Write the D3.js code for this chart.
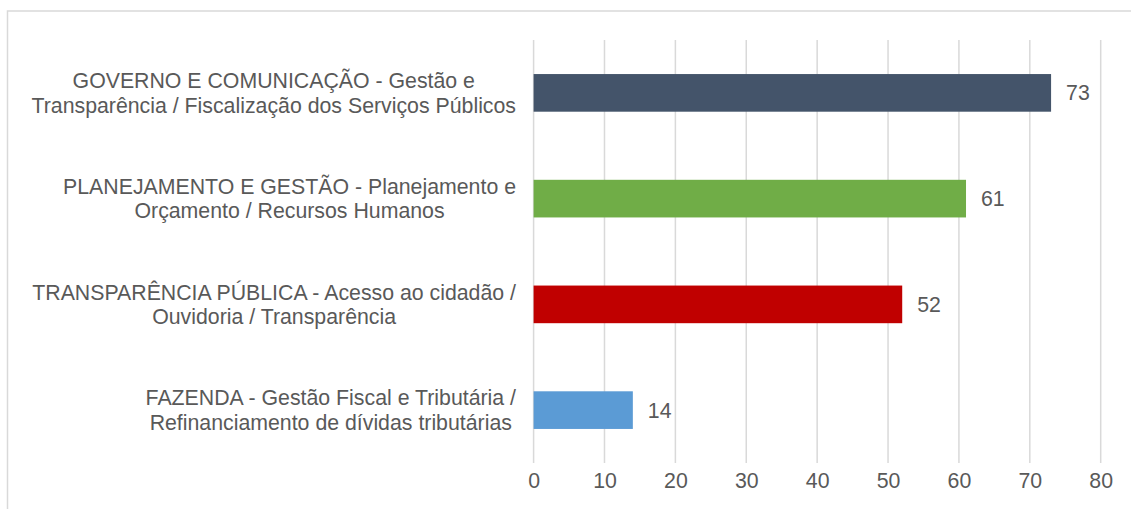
<!DOCTYPE html>
<html><head><meta charset="utf-8">
<script src="https://cdn.jsdelivr.net/npm/d3@7"></script>
<style>
html,body{margin:0;padding:0;background:#fff;}
svg{display:block;}
text{font-family:"Liberation Sans",Arial,sans-serif;fill:#595959;}
</style></head>
<body><svg id="c" width="1131" height="509"></svg>
<script>
const categories = [
  ["GOVERNO E COMUNICAÇÃO - Gestão e", "Transparência / Fiscalização dos Serviços Públicos"],
  ["PLANEJAMENTO E GESTÃO - Planejamento e", "Orçamento / Recursos Humanos"],
  ["TRANSPARÊNCIA PÚBLICA - Acesso ao cidadão /", "Ouvidoria / Transparência"],
  ["FAZENDA - Gestão Fiscal e Tributária /", "Refinanciamento de dívidas tributárias"]
];
const values = [73, 61, 52, 14];
const colors = ["#44546A", "#70AD47", "#C00000", "#5B9BD5"];
const xTicks = [0, 10, 20, 30, 40, 50, 60, 70, 80];

const FS = 21.3;
const svg = d3.select("#c");
// outer chart border
svg.append("rect").attr("x", 7.5).attr("y", 11).attr("width", 1140).attr("height", 520)
  .attr("fill", "none").attr("stroke", "#d9d9d9").attr("stroke-width", 1.5);

const x = d3.scaleLinear().domain([0, 80]).range([533.6, 1100.7]);
const idx = categories.map((d, i) => i);
const y = d3.scaleBand().domain(idx).range([40, 463]).paddingInner(0.644).paddingOuter(0.322);

// gridlines
svg.append("g").selectAll("line").data(xTicks).join("line")
  .attr("x1", d => x(d)).attr("x2", d => x(d))
  .attr("y1", 40).attr("y2", 463)
  .attr("stroke", "#d9d9d9").attr("stroke-width", 1.5);

// x axis labels
const xAxis = d3.axisBottom(x).tickValues(xTicks).tickSize(0).tickPadding(0);
const gx = svg.append("g").attr("transform", "translate(0,473)").call(xAxis);
gx.select(".domain").remove();
gx.selectAll("text").attr("font-size", FS).style("fill", "#595959")
  .attr("font-family", "Liberation Sans, Arial, sans-serif");

// bars
svg.append("g").selectAll("rect").data(values).join("rect")
  .attr("x", x(0)).attr("y", (d, i) => y(i))
  .attr("width", d => x(d) - x(0)).attr("height", y.bandwidth())
  .attr("fill", (d, i) => colors[i]);

// value labels
svg.append("g").selectAll("text").data(values).join("text")
  .attr("x", d => x(d) + 15).attr("y", (d, i) => y(i) + y.bandwidth() / 2)
  .attr("dy", "0.35em").attr("font-size", FS).text(d => d);

// category labels
const lab = svg.append("g").selectAll("g").data(categories).join("g");
lab.each(function(lines, i) {
  const g = d3.select(this);
  const cy = y(i) + y.bandwidth() / 2;
  const ts = g.selectAll("text").data(lines).join("text")
    .attr("font-size", FS).attr("text-anchor", "middle")
    .attr("y", (d, j) => cy + (j - 0.5) * 24.5).attr("dy", "0.35em").text(d => d);
  let maxW = 0;
  ts.each(function() { maxW = Math.max(maxW, this.getComputedTextLength()); });
  ts.attr("x", 516 - maxW / 2);
});
</script></body></html>
